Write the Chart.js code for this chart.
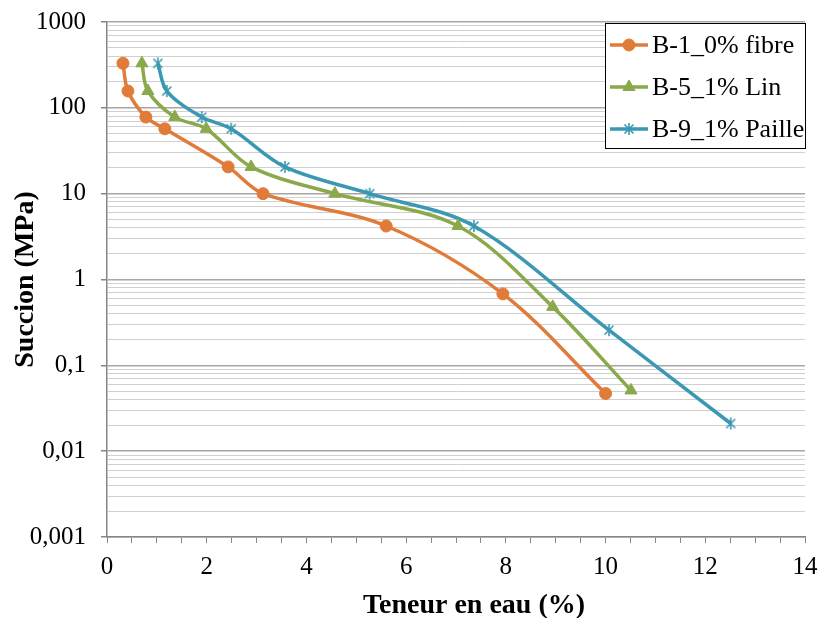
<!DOCTYPE html>
<html>
<head>
<meta charset="utf-8">
<script src="https://cdn.jsdelivr.net/npm/chart.js@4.4.1/dist/chart.umd.min.js"></script>
<style>
  body { margin: 0; background: #fff; }
  canvas { display: block; }
</style>
</head>
<body>
<canvas id="grafico" width="819" height="618"></canvas>
<script>
// valeurs (teneur en eau en %, succion en MPa)
const teneurB1 = [0.32, 0.42, 0.78, 1.16, 2.43, 3.13, 5.60, 7.94, 10.0];
const succionB1 = [330, 157, 78, 57, 20.5, 10, 4.2, 0.68, 0.047];
const teneurB5 = [0.70, 0.82, 1.36, 1.99, 2.89, 4.57, 7.04, 8.94, 10.51];
const succionB5 = [330, 157, 78, 57, 20.5, 10, 4.2, 0.48, 0.051];
const teneurB9 = [1.02, 1.20, 1.90, 2.49, 3.57, 5.27, 7.36, 10.07, 12.51];
const succionB9 = [330, 157, 78, 57, 20.5, 10, 4.2, 0.257, 0.021];

const nomsSeries = ['B-1_0% fibre', 'B-5_1% Lin', 'B-9_1% Paille'];
const couleurs = ['#E07B39', '#8AA94A', '#3A98B2'];

const decadesY = [0.001, 0.01, 0.1, 1, 10, 100, 1000];
const etiquettesY = ['0,001', '0,01', '0,1', '1', '10', '100', '1000'];
const etiquettesX = ['0', '2', '4', '6', '8', '10', '12', '14'];

const titreX = 'Teneur en eau (%)';
const titreY = 'Succion (MPa)';

const police = "'Liberation Serif', 'Times New Roman', serif";

// marqueur etoile (trait vertical + croix) comme dans Excel
function creerEtoile(couleur, taille) {
    const c = document.createElement('canvas');
    c.width = taille;
    c.height = taille;
    const g = c.getContext('2d');
    const m = taille / 2, r = taille / 2 - 1, d = r * 0.75;
    g.strokeStyle = couleur;
    g.lineWidth = 1.6;
    g.beginPath();
    g.moveTo(m, m - r); g.lineTo(m, m + r);
    g.moveTo(m - d, m - d); g.lineTo(m + d, m + d);
    g.moveTo(m + d, m - d); g.lineTo(m - d, m + d);
    g.stroke();
    return c;
}
const etoile = creerEtoile(couleurs[2], 14);

function points(xs, ys) {
    return xs.map((x, i) => ({ x: x, y: ys[i] }));
}

function estDecade(v) {
    const l = Math.log10(v);
    return Math.abs(l - Math.round(l)) < 1e-6;
}

const styles = [
    { pointStyle: 'circle', pointRadius: 6 },
    { pointStyle: 'triangle', pointRadius: 7 },
    { pointStyle: etoile, pointRadius: 7 }
];

const donnees = [points(teneurB1, succionB1), points(teneurB5, succionB5), points(teneurB9, succionB9)];

const datasets = donnees.map((d, i) => ({
    label: nomsSeries[i],
    data: d,
    borderColor: couleurs[i],
    backgroundColor: couleurs[i],
    borderWidth: 3.5,
    tension: 0.33,
    pointStyle: styles[i].pointStyle,
    pointRadius: styles[i].pointRadius,
    pointBorderWidth: 1,
    pointBackgroundColor: couleurs[i],
    pointBorderColor: couleurs[i]
}));

// legende encadree dans la zone de trace + titre de l'axe x (decale comme dans Excel)
const legendeInterne = {
    id: 'legendeInterne',
    afterDraw(chart) {
        const ctx = chart.ctx;
        const zone = chart.chartArea;
        const w = 200, h = 125;
        const x0 = zone.right - w, y0 = zone.top + 1;
        ctx.save();
        ctx.fillStyle = '#fff';
        ctx.fillRect(x0, y0, w, h);
        ctx.strokeStyle = '#000';
        ctx.lineWidth = 1;
        ctx.strokeRect(x0 + 0.5, y0 + 0.5, w, h);
        ctx.font = '26px ' + police;
        ctx.textBaseline = 'middle';
        chart.data.datasets.forEach((ds, i) => {
            const y = y0 + 22 + i * 42;
            ctx.strokeStyle = ds.borderColor;
            ctx.lineWidth = 3.5;
            ctx.beginPath();
            ctx.moveTo(x0 + 5, y);
            ctx.lineTo(x0 + 43, y);
            ctx.stroke();
            ctx.fillStyle = ds.pointBackgroundColor;
            ctx.strokeStyle = ds.pointBorderColor;
            ctx.lineWidth = 1;
            Chart.helpers.drawPoint(ctx, { pointStyle: ds.pointStyle, radius: ds.pointRadius, rotation: 0, borderWidth: 1 }, x0 + 24, y);
            ctx.fillStyle = '#000';
            ctx.fillText(ds.label, x0 + 47, y + 1);
        });

        ctx.font = 'bold 28px ' + police;
        ctx.textAlign = 'center';
        ctx.textBaseline = 'alphabetic';
        ctx.fillStyle = '#000';
        ctx.fillText(titreX, (zone.left + zone.right) / 2 + 18, 613);
        ctx.restore();
    }
};

const ctx = document.getElementById('grafico').getContext('2d');
new Chart(ctx, {
    type: 'line',
    data: { datasets: datasets },
    options: {
        responsive: false,
        animation: false,
        layout: { padding: { top: 22, right: 14, left: 0, bottom: 0 } },
        plugins: {
            legend: { display: false },
            tooltip: { enabled: false }
        },
        scales: {
            x: {
                type: 'linear',
                min: 0,
                max: 14,
                afterFit: s => {
                    s.height = 81;
                    s.paddingLeft = 0;
                    s.paddingRight = 0;
                },
                ticks: {
                    stepSize: 0.5,
                    autoSkip: false,
                    maxRotation: 0,
                    padding: 9,
                    color: '#000',
                    font: { family: police, size: 25 },
                    callback: v => (v % 2 === 0 ? etiquettesX[v / 2] : '')
                },
                grid: { drawOnChartArea: false, drawTicks: true, tickLength: 6, color: '#868686' },
                border: { color: '#868686', width: 1.5 },
                title: { display: false }
            },
            y: {
                type: 'logarithmic',
                min: 0.001,
                max: 1000,
                afterFit: s => {
                    s.width = 107;
                    s.paddingTop = 0;
                    s.paddingBottom = 0;
                },
                afterBuildTicks: s => {
                    const t = [];
                    decadesY.forEach((d, i) => {
                        if (i === decadesY.length - 1) {
                            t.push({ value: d });
                        } else {
                            for (let k = 1; k <= 9; k++) t.push({ value: +(d * k).toPrecision(6) });
                        }
                    });
                    s.ticks = t;
                },
                ticks: {
                    autoSkip: false,
                    padding: 15,
                    color: '#000',
                    font: { family: police, size: 25 },
                    callback: v => {
                        const i = decadesY.findIndex(d => Math.abs(d - v) < d * 1e-6);
                        return i >= 0 ? etiquettesY[i] : '';
                    }
                },
                grid: {
                    drawTicks: true,
                    tickLength: 6,
                    color: c => (estDecade(c.tick.value) ? '#a6a6a6' : '#d0d0d0'),
                    tickColor: c => (estDecade(c.tick.value) ? '#868686' : 'rgba(0,0,0,0)'),
                    lineWidth: c => (estDecade(c.tick.value) ? 1.5 : 1)
                },
                border: { color: '#868686', width: 1.5 },
                title: {
                    display: true,
                    text: titreY,
                    color: '#000',
                    font: { family: police, size: 28, weight: 'bold', lineHeight: 1 },
                    padding: { top: 12, bottom: 0 }
                }
            }
        }
    },
    plugins: [legendeInterne]
});
</script>
</body>
</html>
